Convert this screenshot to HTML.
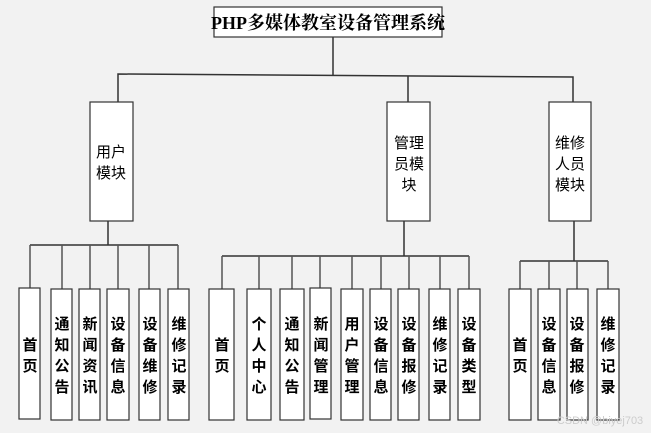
<!DOCTYPE html>
<html><head><meta charset="utf-8"><style>
html,body{margin:0;padding:0;background:#f2f2f2;}
svg{display:block}
text{font-family:"Liberation Sans","Noto Sans CJK SC",sans-serif;font-size:15px;font-weight:bold;fill:#000;text-anchor:middle}
.m{font-weight:normal}
</style></head><body>
<svg width="651" height="433" viewBox="0 0 651 433" xmlns="http://www.w3.org/2000/svg">
<g stroke="#333" stroke-width="1.5" fill="none">
<line x1="333" y1="37" x2="333" y2="76"/>
<polyline points="118,102 118,74 573,77 573,102"/>
<line x1="408" y1="76" x2="408" y2="102"/>
<line x1="108" y1="221" x2="108" y2="245"/>
<line x1="30" y1="245" x2="178" y2="245"/>
<line x1="404" y1="221" x2="404" y2="256"/>
<line x1="222" y1="256" x2="469" y2="256"/>
<line x1="574" y1="221" x2="574" y2="261"/>
<line x1="520" y1="261" x2="608" y2="261"/>
</g>
<g stroke="#555" stroke-width="1.5">
<line x1="30" y1="245" x2="30" y2="288"/><line x1="62" y1="245" x2="62" y2="289"/><line x1="90" y1="245" x2="90" y2="289"/><line x1="118" y1="245" x2="118" y2="289"/><line x1="149" y1="245" x2="149" y2="289"/><line x1="178" y1="245" x2="178" y2="289"/>
<line x1="222" y1="256" x2="222" y2="289"/><line x1="259" y1="256" x2="259" y2="289"/><line x1="292" y1="256" x2="292" y2="289"/><line x1="320" y1="256" x2="320" y2="288"/><line x1="352" y1="256" x2="352" y2="289"/><line x1="381" y1="256" x2="381" y2="289"/><line x1="409" y1="256" x2="409" y2="289"/><line x1="440" y1="256" x2="440" y2="289"/><line x1="469" y1="256" x2="469" y2="289"/>
<line x1="520" y1="261" x2="520" y2="289"/><line x1="549" y1="261" x2="549" y2="289"/><line x1="577" y1="261" x2="577" y2="289"/><line x1="608" y1="261" x2="608" y2="289"/>
</g>
<g fill="#fff" stroke="#333" stroke-width="1.2">
<rect x="214" y="7" width="228" height="30"/>
<rect x="90" y="102" width="43" height="119"/>
<rect x="387" y="102" width="43" height="119"/>
<rect x="549" y="102" width="42" height="119"/>
<rect x="19" y="288" width="21" height="131"/><rect x="51" y="289" width="21" height="131"/><rect x="79" y="289" width="21" height="131"/><rect x="107" y="289" width="22" height="131"/><rect x="139" y="289" width="21" height="131"/><rect x="168" y="289" width="21" height="131"/>
<rect x="209" y="289" width="25" height="131"/><rect x="247" y="289" width="24" height="131"/><rect x="280" y="289" width="24" height="131"/><rect x="310" y="288" width="21" height="131"/><rect x="341" y="289" width="22" height="131"/><rect x="370" y="289" width="21" height="131"/><rect x="398" y="289" width="21" height="131"/><rect x="429" y="289" width="21" height="131"/><rect x="458" y="289" width="22" height="131"/>
<rect x="509" y="289" width="22" height="131"/><rect x="538" y="289" width="22" height="131"/><rect x="567" y="289" width="21" height="131"/><rect x="597" y="289" width="22" height="131"/>
</g>
<text x="328" y="29" style="font-family:'Liberation Serif','Noto Serif CJK SC',serif;font-size:18px">PHP多媒体教室设备管理系统</text>
<text class="m" x="111" y="157">用户</text><text class="m" x="111" y="178">模块</text>
<text class="m" x="409" y="148">管理</text><text class="m" x="409" y="169">员模</text><text class="m" x="409" y="190">块</text>
<text class="m" x="570" y="148">维修</text><text class="m" x="570" y="169">人员</text><text class="m" x="570" y="190">模块</text>
<g>
<text x="30" y="350">首</text><text x="30" y="371">页</text>
<text x="222" y="350">首</text><text x="222" y="371">页</text>
<text x="520" y="350">首</text><text x="520" y="371">页</text>
</g>
<g>
<text x="62" y="329">通</text><text x="62" y="350">知</text><text x="62" y="371">公</text><text x="62" y="392">告</text>
<text x="90" y="329">新</text><text x="90" y="350">闻</text><text x="90" y="371">资</text><text x="90" y="392">讯</text>
<text x="118" y="329">设</text><text x="118" y="350">备</text><text x="118" y="371">信</text><text x="118" y="392">息</text>
<text x="150" y="329">设</text><text x="150" y="350">备</text><text x="150" y="371">维</text><text x="150" y="392">修</text>
<text x="179" y="329">维</text><text x="179" y="350">修</text><text x="179" y="371">记</text><text x="179" y="392">录</text>
<text x="259" y="329">个</text><text x="259" y="350">人</text><text x="259" y="371">中</text><text x="259" y="392">心</text>
<text x="292" y="329">通</text><text x="292" y="350">知</text><text x="292" y="371">公</text><text x="292" y="392">告</text>
<text x="321" y="329">新</text><text x="321" y="350">闻</text><text x="321" y="371">管</text><text x="321" y="392">理</text>
<text x="352" y="329">用</text><text x="352" y="350">户</text><text x="352" y="371">管</text><text x="352" y="392">理</text>
<text x="381" y="329">设</text><text x="381" y="350">备</text><text x="381" y="371">信</text><text x="381" y="392">息</text>
<text x="409" y="329">设</text><text x="409" y="350">备</text><text x="409" y="371">报</text><text x="409" y="392">修</text>
<text x="440" y="329">维</text><text x="440" y="350">修</text><text x="440" y="371">记</text><text x="440" y="392">录</text>
<text x="469" y="329">设</text><text x="469" y="350">备</text><text x="469" y="371">类</text><text x="469" y="392">型</text>
<text x="549" y="329">设</text><text x="549" y="350">备</text><text x="549" y="371">信</text><text x="549" y="392">息</text>
<text x="577" y="329">设</text><text x="577" y="350">备</text><text x="577" y="371">报</text><text x="577" y="392">修</text>
<text x="608" y="329">维</text><text x="608" y="350">修</text><text x="608" y="371">记</text><text x="608" y="392">录</text>
</g>
<text x="600" y="424" style="font-size:11px;font-weight:normal;fill:#ccc">CSDN @biyej703</text>
</svg>
</body></html>
